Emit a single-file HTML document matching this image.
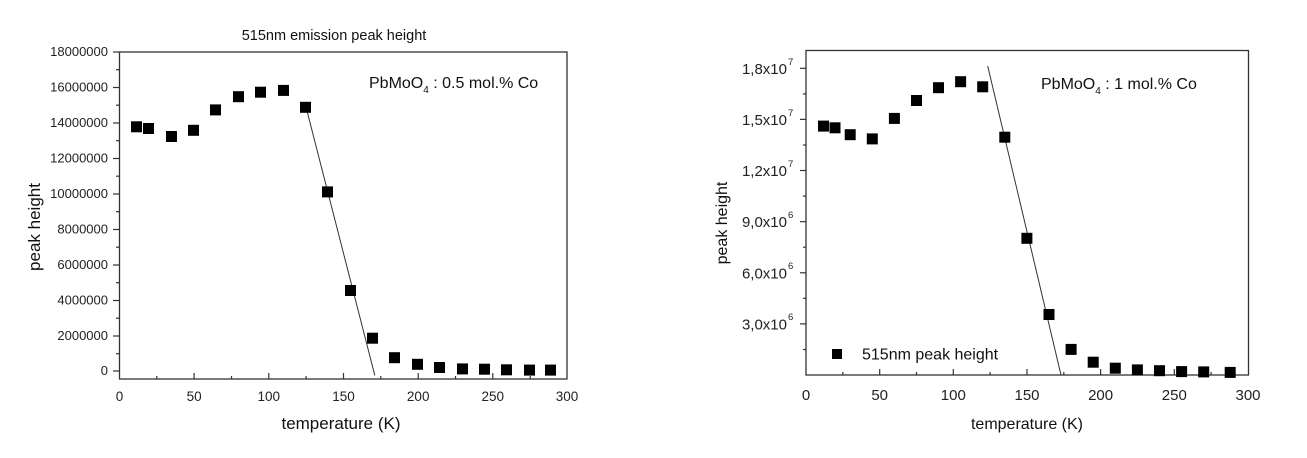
<!DOCTYPE html>
<html><head><meta charset="utf-8"><style>
html,body{margin:0;padding:0;background:#fff;}
svg{display:block;font-family:"Liberation Sans",Arial,sans-serif;}
</style></head><body>
<svg width="1307" height="458" viewBox="0 0 1307 458" xmlns="http://www.w3.org/2000/svg">
<rect width="1307" height="458" fill="#fff"/>
<!-- LEFT PLOT -->
<g>
<text x="334" y="40" font-size="14.5" text-anchor="middle" fill="#111">515nm emission peak height</text>
<rect x="119.5" y="52" width="447.5" height="327" fill="none" stroke="#333" stroke-width="1.3"/>
<g stroke="#333" stroke-width="1.2">
<line x1="113" y1="52" x2="119.5" y2="52"/><line x1="113" y1="87.5" x2="119.5" y2="87.5"/>
<line x1="113" y1="123" x2="119.5" y2="123"/><line x1="113" y1="158.5" x2="119.5" y2="158.5"/>
<line x1="113" y1="194" x2="119.5" y2="194"/><line x1="113" y1="229.5" x2="119.5" y2="229.5"/>
<line x1="113" y1="265" x2="119.5" y2="265"/><line x1="113" y1="300.5" x2="119.5" y2="300.5"/>
<line x1="113" y1="336" x2="119.5" y2="336"/><line x1="113" y1="371" x2="119.5" y2="371"/>
<line x1="116" y1="69.7" x2="119.5" y2="69.7"/><line x1="116" y1="105.2" x2="119.5" y2="105.2"/>
<line x1="116" y1="140.7" x2="119.5" y2="140.7"/><line x1="116" y1="176.2" x2="119.5" y2="176.2"/>
<line x1="116" y1="211.7" x2="119.5" y2="211.7"/><line x1="116" y1="247.2" x2="119.5" y2="247.2"/>
<line x1="116" y1="282.7" x2="119.5" y2="282.7"/><line x1="116" y1="318.2" x2="119.5" y2="318.2"/>
<line x1="116" y1="353.7" x2="119.5" y2="353.7"/>
<line x1="194.1" y1="379" x2="194.1" y2="373"/><line x1="268.8" y1="379" x2="268.8" y2="373"/>
<line x1="343.5" y1="379" x2="343.5" y2="373"/><line x1="418.2" y1="379" x2="418.2" y2="373"/>
<line x1="492.8" y1="379" x2="492.8" y2="373"/>
<line x1="156.8" y1="379" x2="156.8" y2="376"/><line x1="231.5" y1="379" x2="231.5" y2="376"/>
<line x1="306.1" y1="379" x2="306.1" y2="376"/><line x1="380.8" y1="379" x2="380.8" y2="376"/>
<line x1="455.5" y1="379" x2="455.5" y2="376"/><line x1="530.2" y1="379" x2="530.2" y2="376"/>
</g>
<g font-size="13" fill="#222" text-anchor="end">
<text x="108" y="56">18000000</text><text x="108" y="91.5">16000000</text>
<text x="108" y="127">14000000</text><text x="108" y="162.5">12000000</text>
<text x="108" y="198">10000000</text><text x="108" y="233.5">8000000</text>
<text x="108" y="269">6000000</text><text x="108" y="304.5">4000000</text>
<text x="108" y="340">2000000</text><text x="108" y="375">0</text>
</g>
<g font-size="13.5" fill="#222" text-anchor="middle">
<text x="119.5" y="401">0</text><text x="194.1" y="401">50</text><text x="268.8" y="401">100</text>
<text x="343.5" y="401">150</text><text x="418.2" y="401">200</text><text x="492.8" y="401">250</text>
<text x="567" y="401">300</text>
</g>
<text x="341" y="429" font-size="17" text-anchor="middle" fill="#111">temperature (K)</text>
<text transform="translate(40,227) rotate(-90)" font-size="17" text-anchor="middle" fill="#111">peak height</text>
<text x="369" y="88" font-size="16" fill="#111">PbMoO<tspan font-size="10" dy="5">4</tspan><tspan dy="-5"> : 0.5 mol.% Co</tspan></text>
<line x1="306.1" y1="107.4" x2="374.8" y2="375.4" stroke="#333" stroke-width="1"/>
<g fill="#000">
<rect x="131" y="121.3" width="11" height="11"/><rect x="143" y="123" width="11" height="11"/>
<rect x="166" y="131" width="11" height="11"/><rect x="188" y="124.8" width="11" height="11"/>
<rect x="210" y="104.4" width="11" height="11"/><rect x="233" y="91.2" width="11" height="11"/>
<rect x="255" y="86.7" width="11" height="11"/><rect x="278" y="84.9" width="11" height="11"/>
<rect x="300" y="101.8" width="11" height="11"/><rect x="322" y="186.4" width="11" height="11"/>
<rect x="345" y="285" width="11" height="11"/><rect x="367" y="332.7" width="11" height="11"/>
<rect x="389" y="352.2" width="11" height="11"/><rect x="412" y="358.8" width="11" height="11"/>
<rect x="434" y="362" width="11" height="11"/><rect x="457" y="363.4" width="11" height="11"/>
<rect x="479" y="363.7" width="11" height="11"/><rect x="501" y="364.3" width="11" height="11"/>
<rect x="524" y="364.6" width="11" height="11"/><rect x="545" y="364.6" width="11" height="11"/>
</g>
</g>
<!-- RIGHT PLOT -->
<g>
<rect x="806" y="50.5" width="442.5" height="324.5" fill="none" stroke="#333" stroke-width="1.3"/>
<g stroke="#333" stroke-width="1.2">
<line x1="800" y1="68.3" x2="806" y2="68.3"/><line x1="800" y1="119.4" x2="806" y2="119.4"/>
<line x1="800" y1="170.5" x2="806" y2="170.5"/><line x1="800" y1="221.7" x2="806" y2="221.7"/>
<line x1="800" y1="272.8" x2="806" y2="272.8"/><line x1="800" y1="323.9" x2="806" y2="323.9"/>
<line x1="803" y1="93.9" x2="806" y2="93.9"/><line x1="803" y1="145" x2="806" y2="145"/>
<line x1="803" y1="196.1" x2="806" y2="196.1"/><line x1="803" y1="247.2" x2="806" y2="247.2"/>
<line x1="803" y1="298.3" x2="806" y2="298.3"/><line x1="803" y1="349.5" x2="806" y2="349.5"/>
<line x1="879.7" y1="375" x2="879.7" y2="369"/><line x1="953.3" y1="375" x2="953.3" y2="369"/>
<line x1="1027" y1="375" x2="1027" y2="369"/><line x1="1100.6" y1="375" x2="1100.6" y2="369"/>
<line x1="1174.3" y1="375" x2="1174.3" y2="369"/>
<line x1="842.8" y1="375" x2="842.8" y2="372"/><line x1="916.5" y1="375" x2="916.5" y2="372"/>
<line x1="990.1" y1="375" x2="990.1" y2="372"/><line x1="1063.8" y1="375" x2="1063.8" y2="372"/>
<line x1="1137.4" y1="375" x2="1137.4" y2="372"/><line x1="1211.1" y1="375" x2="1211.1" y2="372"/>
</g>
<g font-size="15" fill="#222" text-anchor="end">
<text x="787" y="74">1,8x10</text><text x="787" y="125">1,5x10</text>
<text x="787" y="176">1,2x10</text><text x="787" y="227">9,0x10</text>
<text x="787" y="278.5">6,0x10</text><text x="787" y="329.5">3,0x10</text>
</g>
<g font-size="9.5" fill="#222">
<text x="788" y="65">7</text><text x="788" y="116">7</text><text x="788" y="167">7</text>
<text x="788" y="218">6</text><text x="788" y="269">6</text><text x="788" y="320">6</text>
</g>
<g font-size="15" fill="#222" text-anchor="middle">
<text x="806" y="400">0</text><text x="879.7" y="400">50</text><text x="953.3" y="400">100</text>
<text x="1027" y="400">150</text><text x="1100.6" y="400">200</text><text x="1174.3" y="400">250</text>
<text x="1248" y="400">300</text>
</g>
<text x="1027" y="429" font-size="16" text-anchor="middle" fill="#111">temperature (K)</text>
<text transform="translate(727,223) rotate(-90)" font-size="16" text-anchor="middle" fill="#111">peak height</text>
<text x="1041" y="89" font-size="16" fill="#111">PbMoO<tspan font-size="10" dy="5">4</tspan><tspan dy="-5"> : 1 mol.% Co</tspan></text>
<rect x="832" y="349" width="10" height="10" fill="#000"/>
<text x="862" y="359.5" font-size="16" fill="#111">515nm peak height</text>
<line x1="987.7" y1="66" x2="1061" y2="375" stroke="#333" stroke-width="1"/>
<g fill="#000">
<rect x="818" y="120.6" width="11" height="11"/><rect x="829.5" y="122.3" width="11" height="11"/>
<rect x="844.7" y="129.2" width="11" height="11"/><rect x="866.8" y="133.4" width="11" height="11"/>
<rect x="888.9" y="112.9" width="11" height="11"/><rect x="911" y="95" width="11" height="11"/>
<rect x="933" y="82.2" width="11" height="11"/><rect x="955.1" y="76.2" width="11" height="11"/>
<rect x="977.2" y="81.3" width="11" height="11"/><rect x="999.3" y="131.7" width="11" height="11"/>
<rect x="1021.4" y="232.8" width="11" height="11"/><rect x="1043.5" y="309" width="11" height="11"/>
<rect x="1065.6" y="343.9" width="11" height="11"/><rect x="1087.7" y="356.7" width="11" height="11"/>
<rect x="1109.8" y="362.7" width="11" height="11"/><rect x="1131.9" y="364.4" width="11" height="11"/>
<rect x="1154" y="365.2" width="11" height="11"/><rect x="1176.1" y="366.1" width="11" height="11"/>
<rect x="1198.2" y="366.4" width="11" height="11"/><rect x="1224.7" y="366.9" width="11" height="11"/>
</g>
</g>
</svg>
</body></html>
